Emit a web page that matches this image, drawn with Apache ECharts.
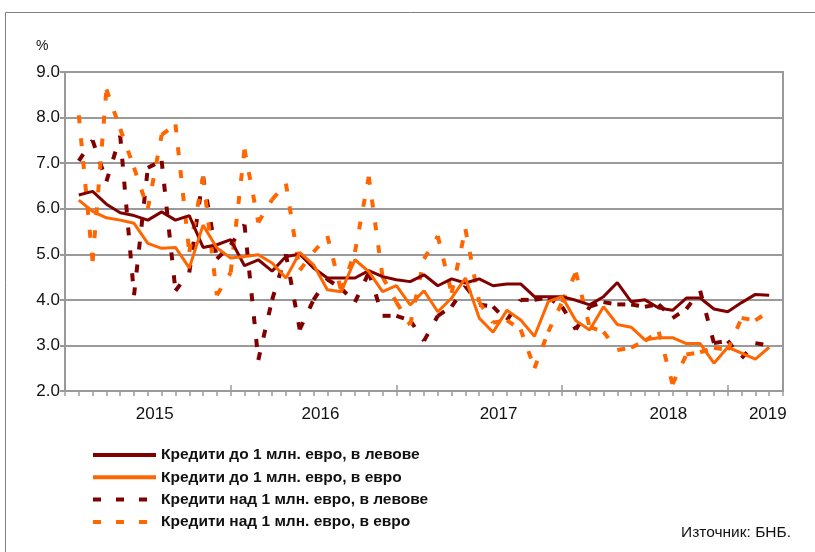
<!DOCTYPE html>
<html><head><meta charset="utf-8">
<script src="https://cdn.jsdelivr.net/npm/echarts@6/dist/echarts.min.js"></script>
<style>html,body{margin:0;padding:0;background:#fff}#c{width:815px;height:552px}</style>
</head><body><div id="c"></div>
<script>
// Months Feb 2015 .. Apr 2019 (tick 0 = Jan 2015)
const months = ['02.2015','03.2015','04.2015','05.2015','06.2015','07.2015','08.2015','09.2015','10.2015','11.2015','12.2015',
'01.2016','02.2016','03.2016','04.2016','05.2016','06.2016','07.2016','08.2016','09.2016','10.2016','11.2016','12.2016',
'01.2017','02.2017','03.2017','04.2017','05.2017','06.2017','07.2017','08.2017','09.2017','10.2017','11.2017','12.2017',
'01.2018','02.2018','03.2018','04.2018','05.2018','06.2018','07.2018','08.2018','09.2018','10.2018','11.2018','12.2018',
'01.2019','02.2019','03.2019','04.2019'];
const yearLabels = ['2015','2016','2017','2018','2019'];
const yTicks = [2,3,4,5,6,7,8,9];

const levUnder1m = [6.30,6.38,6.10,5.91,5.85,5.75,5.93,5.75,5.85,5.15,5.21,5.32,4.75,4.88,4.63,4.95,5.00,
4.70,4.48,4.48,4.48,4.64,4.51,4.44,4.40,4.55,4.31,4.46,4.37,4.46,4.31,4.35,4.35,
4.07,4.07,4.07,3.99,3.89,4.07,4.38,3.96,4.00,3.82,3.77,4.04,4.04,3.80,3.74,3.94,4.12,4.10];
const eurUnder1m = [6.19,5.94,5.80,5.75,5.68,5.24,5.13,5.15,4.70,5.64,5.14,4.92,4.95,4.99,4.81,4.48,5.04,
4.77,4.22,4.18,4.88,4.62,4.18,4.31,3.89,4.20,3.74,4.04,4.48,3.60,3.29,3.77,3.56,
3.20,3.96,4.07,3.54,3.34,3.85,3.46,3.40,3.12,3.17,3.17,3.04,3.04,2.61,2.96,2.83,2.70,2.96];
const levOver1m = [7.05,7.50,6.60,7.60,4.10,6.90,7.05,4.20,4.60,6.70,4.90,5.20,5.65,2.68,4.00,5.00,3.35,
4.00,4.45,4.25,3.95,4.60,3.65,3.65,3.55,3.10,3.65,3.85,4.30,3.90,3.85,3.55,4.00,
4.00,4.05,3.85,3.35,3.85,3.95,3.90,3.90,3.85,3.90,3.60,3.80,4.20,3.05,3.10,2.72,3.05,3.00];
const eurOver1m = [8.05,4.85,8.62,7.75,6.90,6.00,7.62,7.85,5.05,6.70,4.10,4.60,7.30,5.70,6.20,6.55,4.65,
5.05,5.40,4.20,5.05,6.70,4.50,3.95,3.45,4.90,5.40,4.15,5.55,3.95,3.50,3.55,3.35,
2.50,3.30,3.95,4.60,3.40,3.30,2.90,2.95,3.10,3.30,2.15,2.80,2.85,2.95,2.90,3.60,3.55,3.75];

const names = ['Кредити до 1 млн. евро, в левове','Кредити до 1 млн. евро, в евро',
               'Кредити над 1 млн. евро, в левове','Кредити над 1 млн. евро, в евро'];

const DARK = '#800000', ORANGE = '#FF6600', GRID = '#9a9a9a';
const FONT = 'Liberation Sans, Arial, sans-serif';
const DASH = [8, 15];

function pts(arr){ return months.map((m,i)=>[i+1, arr[i]]); }
function segs(arr){ const out=[]; for(let i=0;i<arr.length-1;i++) out.push([i+1,arr[i],i+2,arr[i+1]]); return out; }
function dashedSeries(name, arr, color){
  return {
    type:'custom', name, data: segs(arr), xAxisIndex:0, yAxisIndex:0,
    encode:{x:[0,2], y:[1,3]}, silent:true, clip:false,
    renderItem:function(params, api){
      const p0 = api.coord([api.value(0), api.value(1)]);
      const p1 = api.coord([api.value(2), api.value(3)]);
      return {type:'line', shape:{x1:p0[0],y1:p0[1],x2:p1[0],y2:p1[1]},
        style:{stroke:color, lineWidth:4, lineDash:DASH, lineCap:'butt', fill:null}};
    }
  };
}

const labelPos = [6.5, 18.5, 31.4, 43.7, 50.9];

const chart = echarts.init(document.getElementById('c'), null, {renderer:'canvas'});
chart.setOption({
  animation:false,
  backgroundColor:'#fff',
  textStyle:{fontFamily:FONT},
  grid:{left:65, right:32, top:72, bottom:161, show:true, borderColor:GRID, borderWidth:2, backgroundColor:'transparent'},
  xAxis:[
    {type:'value', min:0, max:52, interval:1,
     axisLine:{show:true, lineStyle:{color:GRID, width:2}},
     axisTick:{show:true, length:5, lineStyle:{color:GRID, width:1.5}},
     axisLabel:{show:false}, splitLine:{show:false}},
    {type:'value', min:0, max:52, position:'bottom',
     axisLine:{show:false},
     axisTick:{show:true, inside:true, length:6, customValues:[12,24,36,48], lineStyle:{color:GRID, width:1.5}},
     axisLabel:{show:true, customValues:labelPos, margin:15, fontSize:17, color:'#111', fontFamily:FONT,
       formatter:function(v){ let k=0,b=1e9; labelPos.forEach((p,i)=>{ if(Math.abs(p-v)<b){b=Math.abs(p-v);k=i;} }); return yearLabels[k]; }},
     splitLine:{show:false}}
  ],
  yAxis:{type:'value', min:yTicks[0], max:yTicks[yTicks.length-1], interval:1,
    axisLine:{show:true, lineStyle:{color:GRID, width:2}},
    axisTick:{show:true, length:5, lineStyle:{color:GRID, width:2}},
    axisLabel:{fontSize:17, color:'#111', margin:5, fontFamily:FONT, formatter:v=>v.toFixed(1)},
    splitLine:{show:true, lineStyle:{color:GRID, width:2}}},
  legend:{
    orient:'vertical', left:91, top:447, padding:0, itemWidth:63, itemHeight:16, itemGap:6.3,
    selectedMode:false,
    itemStyle:{opacity:0},
    textStyle:{fontSize:15.5, fontWeight:'bold', color:'#111', fontFamily:FONT},
    data:[
      {name:names[0], lineStyle:{color:DARK, width:4, type:'solid'}},
      {name:names[1], lineStyle:{color:ORANGE, width:4, type:'solid'}},
      {name:names[2], lineStyle:{color:DARK, width:4, type:DASH}},
      {name:names[3], lineStyle:{color:ORANGE, width:4, type:DASH}}
    ]
  },
  graphic:[
    {type:'text', left:36, top:39, style:{text:'%', fontSize:14, fill:'#111', fontFamily:FONT}},
    {type:'text', left:681, top:525, style:{text:'Източник: БНБ.', fontSize:15.5, fill:'#111', fontFamily:FONT}},
    {type:'line', shape:{x1:5.5,y1:12.5,x2:815,y2:12.5}, style:{stroke:'#808080', lineWidth:1}},
    {type:'line', shape:{x1:5.5,y1:12.5,x2:5.5,y2:552}, style:{stroke:'#808080', lineWidth:1}}
  ],
  series:[
    {type:'line', name:names[0], data:pts(levUnder1m), symbol:'none', lineStyle:{color:DARK, width:3}, itemStyle:{color:DARK}, z:2},
    {type:'line', name:names[1], data:pts(eurUnder1m), symbol:'none', lineStyle:{color:ORANGE, width:3}, itemStyle:{color:ORANGE}, z:2},
    {type:'line', name:names[2], data:[], symbol:'none', lineStyle:{color:DARK, width:4, type:DASH}, itemStyle:{color:DARK}},
    {type:'line', name:names[3], data:[], symbol:'none', lineStyle:{color:ORANGE, width:4, type:DASH}, itemStyle:{color:ORANGE}},
    dashedSeries(names[2], levOver1m, DARK),
    dashedSeries(names[3], eurOver1m, ORANGE)
  ]
});
</script></body></html>
